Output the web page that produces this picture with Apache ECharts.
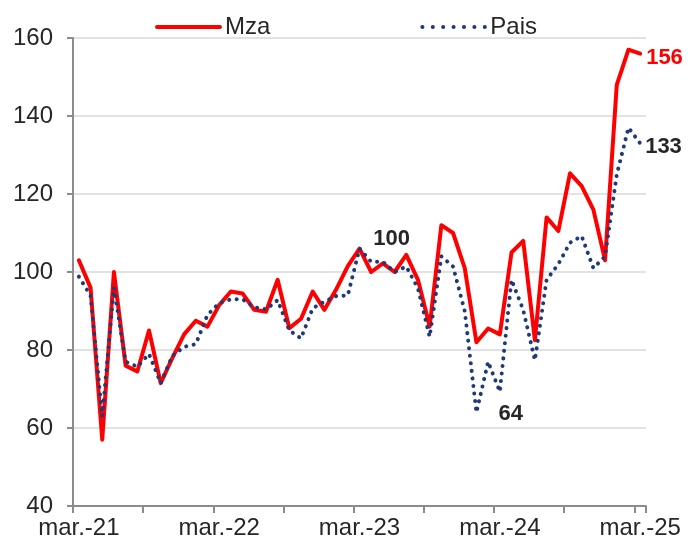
<!DOCTYPE html>
<html>
<head>
<meta charset="utf-8">
<script src="https://cdn.jsdelivr.net/npm/echarts@6/dist/echarts.min.js"></script>
<style>
html, body { margin: 0; padding: 0; background: #fff; }
#chart { width: 690px; height: 552px; }
</style>
</head>
<body>
<div id="chart"></div>
<script>
// meses mar-21 .. mar-25
var months = [
    'mar.-21', 'abr.-21', 'may.-21', 'jun.-21', 'jul.-21', 'ago.-21', 'sep.-21', 'oct.-21', 'nov.-21', 'dic.-21', 'ene.-22', 'feb.-22',
    'mar.-22', 'abr.-22', 'may.-22', 'jun.-22', 'jul.-22', 'ago.-22', 'sep.-22', 'oct.-22', 'nov.-22', 'dic.-22', 'ene.-23', 'feb.-23',
    'mar.-23', 'abr.-23', 'may.-23', 'jun.-23', 'jul.-23', 'ago.-23', 'sep.-23', 'oct.-23', 'nov.-23', 'dic.-23', 'ene.-24', 'feb.-24',
    'mar.-24', 'abr.-24', 'may.-24', 'jun.-24', 'jul.-24', 'ago.-24', 'sep.-24', 'oct.-24', 'nov.-24', 'dic.-24', 'ene.-25', 'feb.-25',
    'mar.-25'
];

var mza = [
    103, 96, 57, 100, 76, 74.5, 85, 71.5, 78, 84, 87.5, 86,
    91.5, 95, 94.5, 90.3, 89.8, 98, 85.6, 88, 95, 90.3, 95.5, 101.5,
    106, 100, 102.2, 100, 104.4, 98, 86, 112, 110, 101, 82, 85.5,
    84, 105, 108, 82.5, 114, 110.5, 125.3, 122, 116, 103, 148, 157,
    156
];

var pais = [
    98.8, 94, 63, 96, 77, 75.7, 79, 71.5, 78.5, 80.8, 81.5, 89,
    92, 93, 93, 91, 90.4, 92.8, 85, 83, 90.7, 92.4, 93.8, 94,
    106, 102.6, 102.6, 100, 101.4, 95.8, 83.4, 104, 101.4, 90, 64, 77,
    69.3, 98, 90.3, 77.4, 98, 102, 107.5, 109.2, 101, 104, 125, 137,
    133
];

var yTicks = { min: 40, max: 160, step: 20 };

var fontName = '"Liberation Sans", Arial, sans-serif';
var dark = '#262626';
var red = '#ff0000';
var navy = '#1f3a78';

// etiquetas puntuales
function withLabels(values, marks) {
    return values.map(function (v, i) {
        if (marks[i]) {
            return { value: v, label: marks[i] };
        }
        return v;
    });
}

function lbl(pos, dist, off, color) {
    return {
        show: true, position: pos, distance: dist, offset: off,
        color: color, fontWeight: 'bold', fontSize: 22, fontFamily: fontName
    };
}

var mzaMarks = {};
mzaMarks[48] = lbl('right', 6, [0, 4], red);
var paisMarks = {};
paisMarks[27] = lbl('top', 22, [-3, 0], dark);
paisMarks[34] = lbl('right', 22, [0, 2], dark);
paisMarks[48] = lbl('right', 5, [0, 4], dark);

var myChart = echarts.init(document.getElementById('chart'), null, { renderer: 'canvas' });

myChart.setOption({
    backgroundColor: '#ffffff',
    animation: false,
    textStyle: { fontFamily: fontName },
    legend: {
        left: 150,
        top: 10,
        itemWidth: 63,
        itemHeight: 14,
        itemGap: 150,
        itemStyle: { opacity: 0 },
        textStyle: { fontSize: 24, color: dark, fontFamily: fontName },
        data: [
            { name: 'Mza', lineStyle: { color: red, width: 4, type: 'solid', cap: 'round' } },
            { name: 'Pais', lineStyle: { color: navy, width: 4, type: [0.1, 10.3], cap: 'round' } }
        ]
    },
    grid: {
        left: 73,
        right: 44,
        top: 38,
        bottom: 46,
        containLabel: false
    },
    xAxis: {
        type: 'category',
        data: months,
        boundaryGap: true,
        axisLine: { lineStyle: { color: '#8c8c8c', width: 2 } },
        axisTick: { show: true, interval: 5, length: 7, lineStyle: { color: '#8c8c8c', width: 2 } },
        axisLabel: { interval: 11, margin: 10, fontSize: 24, color: dark, fontFamily: fontName },
        splitLine: { show: false }
    },
    yAxis: {
        type: 'value',
        min: yTicks.min,
        max: yTicks.max,
        interval: yTicks.step,
        axisLine: { show: true, lineStyle: { color: '#8c8c8c', width: 2 } },
        axisTick: { show: true, length: 6, lineStyle: { color: '#8c8c8c', width: 2 } },
        axisLabel: { margin: 20, fontSize: 24, color: dark, fontFamily: fontName },
        splitLine: { show: true, lineStyle: { color: '#d9d9d9', width: 1.5 } }
    },
    series: [
        {
            name: 'Mza',
            type: 'line',
            data: withLabels(mza, mzaMarks),
            symbol: 'circle',
            symbolSize: 0,
            showSymbol: true,
            showAllSymbol: true,
            label: { show: false },
            color: red,
            lineStyle: { color: red, width: 4, join: 'round', cap: 'round' },
            z: 2
        },
        {
            name: 'Pais',
            type: 'line',
            data: withLabels(pais, paisMarks),
            symbol: 'circle',
            symbolSize: 0,
            showSymbol: true,
            showAllSymbol: true,
            label: { show: false },
            color: navy,
            lineStyle: { color: navy, width: 4, type: [0.1, 7.5], cap: 'round' },
            z: 3
        }
    ]
});
</script>
</body>
</html>
